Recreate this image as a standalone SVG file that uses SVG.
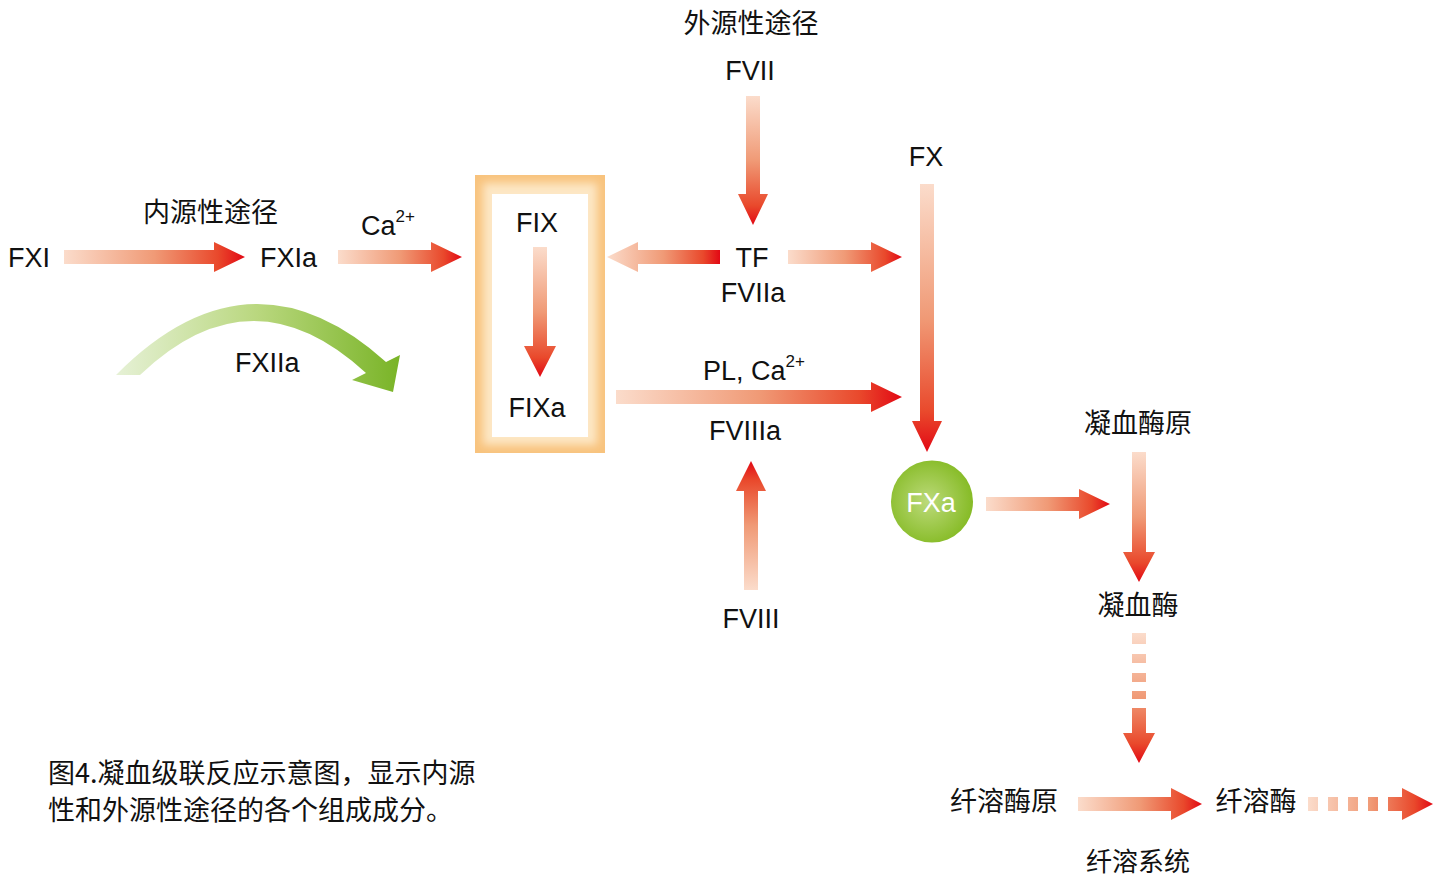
<svg xmlns="http://www.w3.org/2000/svg" width="1446" height="879" viewBox="0 0 1446 879">
<style>
text{fill:#111;font-family:"Liberation Sans","Noto Sans CJK SC",sans-serif;font-size:27px}
.cjk{font-family:"Noto Sans CJK SC","Liberation Sans",sans-serif;font-size:27px}
.m{text-anchor:middle}
.sup{font-size:17px}
.ah{fill:url(#gh)}
.av{fill:url(#gv)}
.au{fill:url(#gu)}
</style>
<defs>
<linearGradient id="gh" x1="0" y1="0" x2="1" y2="0">
<stop offset="0" stop-color="#fbdccb"/>
<stop offset="0.5" stop-color="#f09a76"/>
<stop offset="0.85" stop-color="#e9492c"/>
<stop offset="1" stop-color="#e20814"/>
</linearGradient>
<linearGradient id="gv" x1="0" y1="0" x2="0" y2="1">
<stop offset="0" stop-color="#fbdccb"/>
<stop offset="0.5" stop-color="#f09a76"/>
<stop offset="0.85" stop-color="#e9492c"/>
<stop offset="1" stop-color="#e20814"/>
</linearGradient>
<linearGradient id="gu" x1="0" y1="1" x2="0" y2="0">
<stop offset="0" stop-color="#fbdccb"/>
<stop offset="0.5" stop-color="#f09a76"/>
<stop offset="0.85" stop-color="#e9492c"/>
<stop offset="1" stop-color="#e20814"/>
</linearGradient>
<linearGradient id="gg" gradientUnits="userSpaceOnUse" x1="116" y1="0" x2="400" y2="0">
<stop offset="0" stop-color="#e6f1d6"/>
<stop offset="0.5" stop-color="#b9d77e"/>
<stop offset="1" stop-color="#79b427"/>
</linearGradient>
<radialGradient id="gc" cx="0.45" cy="0.5" r="0.55">
<stop offset="0" stop-color="#bcda7a"/>
<stop offset="1" stop-color="#86bb26"/>
</radialGradient>
<filter id="blur" x="-20%" y="-20%" width="140%" height="140%">
<feGaussianBlur stdDeviation="4"/>
</filter>
</defs>

<g id="intrinsic-label"><text class="cjk" x="143" y="222">内源性途径</text></g>
<g id="extrinsic-label"><text class="cjk m" x="751" y="33">外源性途径</text></g>
<g id="fxi"><text x="8" y="267">FXI</text></g>
<g id="fxia"><text x="260" y="267">FXIa</text></g>
<g id="ca1"><text x="361" y="235">Ca<tspan class="sup" dy="-13">2+</tspan></text></g>
<g id="fxiia"><text x="235" y="372">FXIIa</text></g>

<g id="fix-box">
<rect x="475" y="175" width="130" height="278" fill="#f8c37d"/>
<rect x="483" y="183" width="114" height="262" fill="#fde7c5" filter="url(#blur)"/>
<rect x="492" y="194" width="96" height="243" fill="#fff"/>
<text class="m" x="537" y="232">FIX</text>
<text class="m" x="537" y="417">FIXa</text>
</g>

<g id="fvii"><text class="m" x="750" y="80">FVII</text></g>
<g id="tf-fviia">
<text class="m" x="752" y="267">TF</text>
<text class="m" x="753" y="302">FVIIa</text>
</g>
<g id="fx"><text class="m" x="926" y="166">FX</text></g>
<g id="pl-ca"><text x="703" y="380">PL, Ca<tspan class="sup" dy="-13">2+</tspan></text></g>
<g id="fviiia"><text class="m" x="745" y="440">FVIIIa</text></g>
<g id="fviii"><text class="m" x="751" y="628">FVIII</text></g>

<g id="fxa">
<circle cx="932" cy="501.5" r="41" fill="url(#gc)"/>
<text class="m" x="931" y="512" style="fill:#fff">FXa</text>
</g>

<g id="prothrombin"><text class="cjk m" x="1138" y="433">凝血酶原</text></g>
<g id="thrombin"><text class="cjk m" x="1138" y="615">凝血酶</text></g>
<g id="plasminogen"><text class="cjk m" x="1004" y="811">纤溶酶原</text></g>
<g id="plasmin"><text class="cjk m" x="1256" y="811">纤溶酶</text></g>
<g id="fibrinolysis"><text class="cjk m" x="1138" y="871" style="font-size:26px">纤溶系统</text></g>

<g id="caption">
<text class="cjk" x="48" y="783">图4.凝血级联反应示意图，显示内源</text>
<text class="cjk" x="48" y="820">性和外源性途径的各个组成成分。</text>
</g>

<g id="connectors">
<path class="ah" d="M64,250 H214 V242 L245,257 L214,272 V264 H64 Z"/>
<path class="ah" d="M338,250 H431 V242 L462,257 L431,272 V264 H338 Z"/>
<path class="ah" d="M720,250 H638 V242 L607,257 L638,272 V264 H720 Z"/>
<path class="ah" d="M788,250 H871 V242 L902,257 L871,272 V264 H788 Z"/>
<path class="ah" d="M616,390 H871 V382 L902,397 L871,412 V404 H616 Z"/>
<path class="ah" d="M986,497 H1079 V489 L1110,504 L1079,519 V511 H986 Z"/>
<path class="ah" d="M1078,797 H1171 V788 L1202,804 L1171,820 V811 H1078 Z"/>
<path class="ah" d="M1308,797 H1318 V811 H1308 Z M1328,797 H1338 V811 H1328 Z M1348,797 H1358 V811 H1348 Z M1368,797 H1378 V811 H1368 Z M1388,797 H1402 V788 L1433,804 L1402,820 V811 H1388 Z"/>
<path class="av" d="M533,247 V346 H524 L540,377 L556,346 H547 V247 Z"/>
<path class="av" d="M746,96 V194 H738 L753,225 L768,194 H760 V96 Z"/>
<path class="av" d="M920,184 V421 H912 L927,452 L942,421 H934 V184 Z"/>
<path class="au" d="M744,590 V491 H736 L751,461 L766,491 H758 V590 Z"/>
<path class="av" d="M1132,452 V552 H1123 L1139,582 L1155,552 H1146 V452 Z"/>
<path class="av" d="M1132,633 H1146 V644 H1132 Z M1132,654 H1146 V663 H1132 Z M1132,673 H1146 V682 H1132 Z M1132,691 H1146 V699 H1132 Z M1132,708 V733 H1123 L1139,763 L1155,733 H1146 V708 Z"/>
<path fill="url(#gg)" d="M116,375 Q250,240 386,362 L400,355 L393,392 L352,380 L366,373 Q252,268 140,375 Z"/>
</g>
</svg>
